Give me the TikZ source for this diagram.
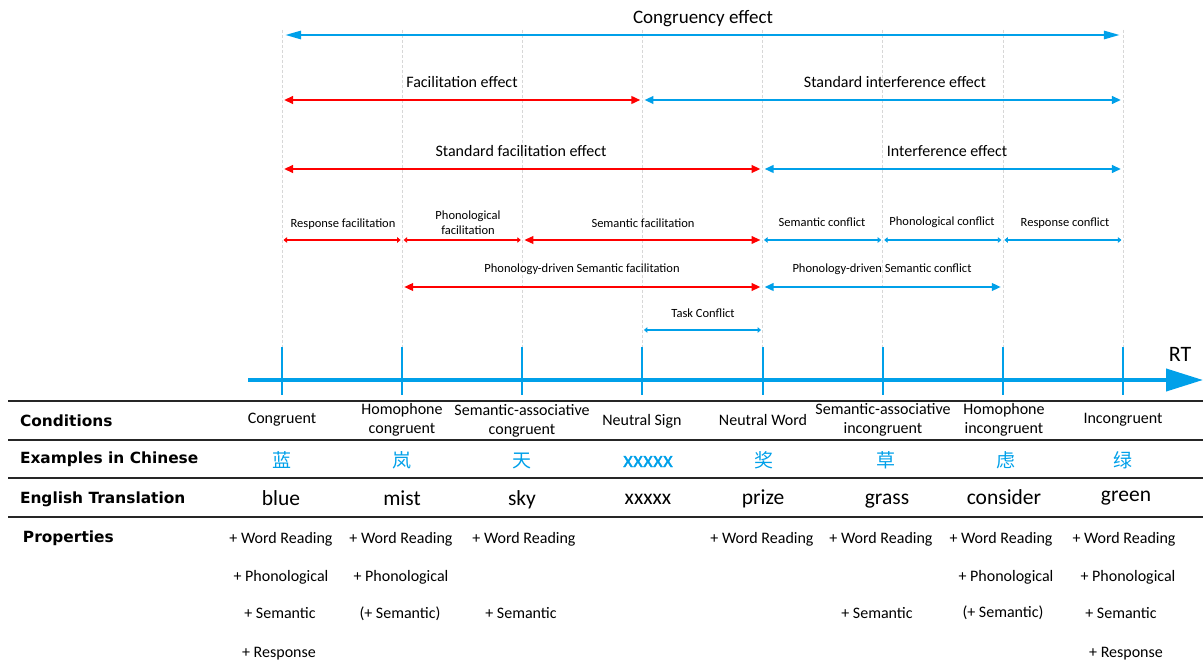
\documentclass[tikz,border=0pt]{standalone}
\usepackage{fontspec}
\setmainfont{Carlito}
\newfontfamily\headfont{DejaVu Sans}
\newfontfamily\cjk{Noto Sans CJK SC}
\newfontfamily\cjkbold{Noto Sans CJK SC}[FakeBold=1.5]
\usetikzlibrary{arrows.meta}
\definecolor{rtblue}{RGB}{0,160,233}
\definecolor{rtred}{RGB}{255,0,0}
\definecolor{guide}{RGB}{215,215,215}
\begin{document}
\begin{tikzpicture}[x=1pt,y=-1pt,
  every node/.style={inner sep=0pt,outer sep=0pt},
  txt/.style={anchor=base,font=\fontsize{16}{19}\selectfont},
  bigtxt/.style={anchor=base,font=\fontsize{19}{22}\selectfont},
  smalltxt/.style={anchor=base,font=\fontsize{12.5}{15}\selectfont},
  twoline/.style={anchor=center,align=center,font=\fontsize{12.5}{15}\selectfont},
  cond/.style={anchor=base,font=\fontsize{16}{19}\selectfont},
  cond2/.style={anchor=center,align=center,font=\fontsize{16}{19}\selectfont},
  hdr/.style={anchor=base west,font=\headfont\bfseries\fontsize{15.4}{18}\selectfont},
  zh/.style={anchor=base,text=rtblue,font=\cjk\fontsize{19}{22}\selectfont},
  zhx/.style={anchor=base,text=rtblue,font=\cjkbold\fontsize{20}{22}\selectfont},
  en/.style={anchor=base,font=\fontsize{21.5}{24}\selectfont},
  prop/.style={anchor=base,font=\fontsize{16}{19}\selectfont},
  fac/.style={draw=rtred,fill=rtred},
  itf/.style={draw=rtblue,fill=rtblue},
  bigarr/.style={line width=2.6pt,{Triangle[length=16pt,width=8pt]}-{Triangle[length=16pt,width=8pt]},shorten <=3pt,shorten >=3pt},
  midarr/.style={line width=2.6pt,{Triangle[length=9pt,width=7.5pt]}-{Triangle[length=9pt,width=7.5pt]},shorten <=2pt,shorten >=2pt},
  smallarr/.style={line width=1.8pt,{Triangle[length=3.5pt,width=5.5pt]}-{Triangle[length=3.5pt,width=5.5pt]},shorten <=1.5pt,shorten >=1.5pt},
  guideline/.style={draw=guide,line width=0.6pt,dash pattern=on 3pt off 2pt},
  tickmark/.style={draw=rtblue,line width=2pt},
  axisline/.style={draw=rtblue,line width=4pt,-{Triangle[length=37pt,width=22pt]}},
  rule/.style={draw=black!85,line width=1.8pt}
]
\useasboundingbox (0,0) rectangle (1203,668);

% column positions on the RT axis and the levels of the effect arrows
\foreach \i in {0,...,7}{
  \pgfmathsetmacro\xx{282+120.14*\i}
  \coordinate (g\i) at (\xx,30);
  \coordinate (tt\i) at (\xx,347);
  \coordinate (tb\i) at (\xx,395);
  \coordinate (a\i) at (\xx,35);
  \coordinate (b\i) at (\xx,100);
  \coordinate (c\i) at (\xx,169);
  \coordinate (d\i) at (\xx,240);
  \coordinate (e\i) at (\xx,287);
  \coordinate (f\i) at (\xx,330);
}

% dashed guides
\foreach \i in {0,...,7}{\draw[guideline] (g\i) -- (tt\i);}

% congruency effect
\draw[bigarr,itf] (a0) -- (a7);
\node[bigtxt] (lcong) at (703,24) {Congruency effect};

% facilitation / standard interference
\draw[midarr,fac] (b0) -- (b3);
\draw[midarr,itf] (b3) -- (b7);
\node[txt] (lfac) at (462,88) {Facilitation effect};
\node[txt] (lsint) at (895,88) {Standard interference effect};

% standard facilitation / interference
\draw[midarr,fac] (c0) -- (c4);
\draw[midarr,itf] (c4) -- (c7);
\node[txt] (lsfac) at (521,157) {Standard facilitation effect};
\node[txt] (lint) at (947,157) {Interference effect};

% component effects
\draw[smallarr,fac] (d0) -- (d1);
\draw[smallarr,fac] (d1) -- (d2);
\draw[midarr,fac,line width=2pt] (d2) -- (d4);
\draw[smallarr,itf] (d4) -- (d5);
\draw[smallarr,itf] (d5) -- (d6);
\draw[smallarr,itf] (d6) -- (d7);
\node[smalltxt] (lrf) at (343,228) {Response facilitation};
\node[twoline] (lpf) at (468,223) {Phonological\\facilitation};
\node[smalltxt] (lsf) at (643,228) {Semantic facilitation};
\node[smalltxt] (lsc) at (822,227) {Semantic conflict};
\node[smalltxt] (lpc) at (942,226) {Phonological conflict};
\node[smalltxt] (lrc) at (1065,227) {Response conflict};

% phonology-driven semantic effects
\draw[midarr,fac] (e1) -- (e4);
\draw[midarr,itf] (e4) -- (e6);
\node[smalltxt] (lpdf) at (582,273) {Phonology-driven Semantic facilitation};
\node[smalltxt] (lpdc) at (882,273) {Phonology-driven Semantic conflict};

% task conflict
\draw[smallarr,itf] (f3) -- (f4);
\node[smalltxt] (ltc) at (703,318) {Task Conflict};

% RT axis
\coordinate (ax0) at (248,380);
\coordinate (ax1) at (1203,380);
\draw[axisline] (ax0) -- (ax1);
\foreach \i in {0,...,7}{\draw[tickmark] (tt\i) -- (tb\i);}
\node[anchor=base,font=\fontsize{22}{24}\selectfont] (rt) at (1180,362) {RT};

% table rules
\coordinate (r1l) at (8,401);  \coordinate (r1r) at (1203,401);
\coordinate (r2l) at (8,440);  \coordinate (r2r) at (1203,440);
\coordinate (r3l) at (8,478);  \coordinate (r3r) at (1203,478);
\coordinate (r4l) at (8,517);  \coordinate (r4r) at (1203,517);
\draw[rule] (r1l) -- (r1r);
\draw[rule] (r2l) -- (r2r);
\draw[rule] (r3l) -- (r3r);
\draw[rule] (r4l) -- (r4r);

% row headers
\node[hdr] (hcond) at (20,427) {Conditions};
\node[hdr] (hzh) at (20,464) {Examples in Chinese};
\node[hdr] (hen) at (20,503) {English Translation};
\node[hdr] (hprop) at (23,542) {Properties};

% conditions
\node[cond] (k0) at (282,424) {Congruent};
\node[cond2] (k1) at (402,420) {Homophone\\congruent};
\node[cond2] (k2) at (522,421) {Semantic-associative\\congruent};
\node[cond] (k3) at (642,426) {Neutral Sign};
\node[cond] (k4) at (763,426) {Neutral Word};
\node[cond2] (k5) at (883,420) {Semantic-associative\\incongruent};
\node[cond2] (k6) at (1004,420) {Homophone\\incongruent};
\node[cond] (k7) at (1123,424) {Incongruent};

% Chinese examples
\node[zh] (z0) at (282,467) {蓝};
\node[zh] (z1) at (402,467) {岚};
\node[zh] (z2) at (522,467) {天};
\node[zhx] (z3) at (648,467) {xxxxx};
\node[zh] (z4) at (764,467) {奖};
\node[zh] (z5) at (886,467) {草};
\node[zh] (z6) at (1006,467) {虑};
\node[zh] (z7) at (1123,467) {绿};

% English translations
\node[en] (w0) at (281,505) {blue};
\node[en] (w1) at (402,505) {mist};
\node[en] (w2) at (522,505) {sky};
\node[en] (w3) at (648,504) {xxxxx};
\node[en] (w4) at (763,504) {prize};
\node[en] (w5) at (887,504) {grass};
\node[en] (w6) at (1004,504) {consider};
\node[en] (w7) at (1126,501) {green};

% properties
\node[prop] (p0a) at (281,543) {+ Word Reading};
\node[prop] (p0b) at (281,581) {+ Phonological};
\node[prop] (p0c) at (280,618) {+ Semantic};
\node[prop] (p0d) at (279,657) {+ Response};
\node[prop] (p1a) at (401,543) {+ Word Reading};
\node[prop] (p1b) at (401,581) {+ Phonological};
\node[prop] (p1c) at (400,618) {(+ Semantic)};
\node[prop] (p2a) at (524,543) {+ Word Reading};
\node[prop] (p2c) at (521,618) {+ Semantic};
\node[prop] (p4a) at (762,543) {+ Word Reading};
\node[prop] (p5a) at (881,543) {+ Word Reading};
\node[prop] (p5c) at (877,618) {+ Semantic};
\node[prop] (p6a) at (1001,543) {+ Word Reading};
\node[prop] (p6b) at (1006,581) {+ Phonological};
\node[prop] (p6c) at (1003,617) {(+ Semantic)};
\node[prop] (p7a) at (1124,543) {+ Word Reading};
\node[prop] (p7b) at (1128,581) {+ Phonological};
\node[prop] (p7c) at (1121,618) {+ Semantic};
\node[prop] (p7d) at (1126,657) {+ Response};
\end{tikzpicture}
\end{document}
